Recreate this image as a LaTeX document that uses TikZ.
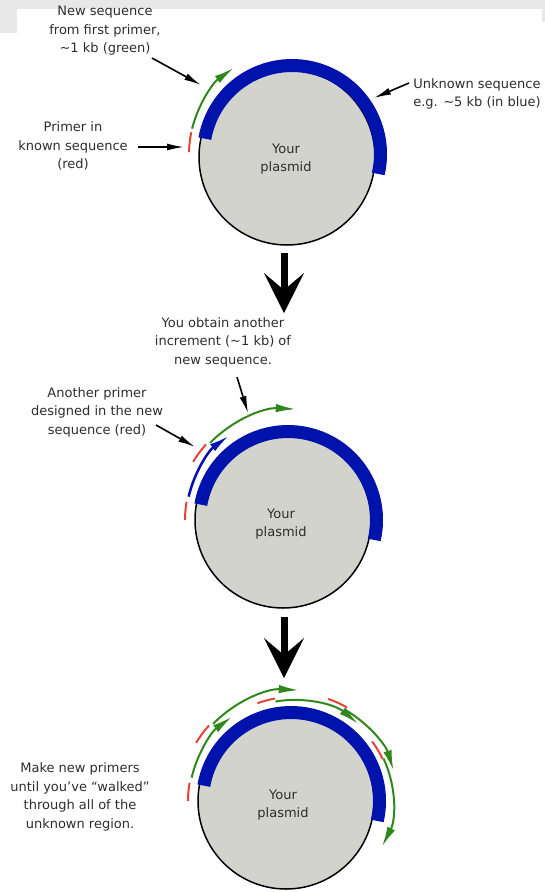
\documentclass[tikz,border=0pt]{standalone}
\usepackage{fontspec}
\setmainfont{DejaVu Sans}
\usetikzlibrary{arrows.meta}

\definecolor{plasgray}{RGB}{211,211,206}
\definecolor{seqblue}{RGB}{0,18,172}
\definecolor{seqgreen}{RGB}{48,136,28}
\definecolor{primred}{RGB}{228,68,56}
\definecolor{txtgray}{RGB}{45,45,45}
\definecolor{framegray}{RGB}{232,232,232}

\begin{document}
\begin{tikzpicture}[x=1pt,y=1pt,yscale=-1,
  every node/.style={font=\fontsize{13}{18.5}\selectfont,text=txtgray,align=center,inner sep=0pt},
  plasmid/.style={draw=black,line width=1.5pt,fill=plasgray},
  bluearc/.style={draw=seqblue,line width=13pt},
  redarc/.style={draw=primred,line width=2pt},
  greenarc/.style={draw=seqgreen,line width=2pt,-{Latex[length=20pt,width=8.5pt]}},
  knownarc/.style={draw=seqblue,line width=2.5pt,-{Latex[length=20pt,width=8.5pt]}},
  pointer/.style={draw=black,line width=1.6pt,-{Latex[length=17pt,width=7pt]}},
  bigarrow/.style={draw=black,line width=7pt,-{Stealth[length=40pt,width=40pt,inset=17pt,line width=0pt]}}]
\useasboundingbox (0,0) rectangle (545,892);

% frame
\fill[framegray] (0,0) rectangle (545,9);
\fill[framegray] (0,0) rectangle (17,33);
\fill[framegray] (542,0) rectangle (545,22);

%% first plasmid
\begin{scope}[shift={(294,154)},yscale=-1]
\draw[plasmid] (-7,-3) circle[radius=88];
\draw[bluearc] ([xshift=-2pt]-13:88.5) arc[start angle=-13,end angle=170,radius=88.5];
\draw[redarc] (179:105) arc[start angle=179,end angle=168,radius=105];
\draw[greenarc] (166:105) arc[start angle=166,end angle=125,radius=105];
\end{scope}

\node (plasmidA) at (286,159) {Your\\plasmid};
\node (newseq) at (105,31) {New sequence\\from first primer,\\\textasciitilde1 kb (green)};
\node (unknown) at (477,94) {Unknown sequence\\e.g. \textasciitilde5 kb (in blue)};
\node (primer) at (73,146) {Primer in\\known sequence\\(red)};

\coordinate (newseqS) at (152,58);
\coordinate (newseqE) at (201,85);
\coordinate (unknownS) at (409,83);
\coordinate (unknownE) at (374,98);
\coordinate (primerS) at (138,147);
\coordinate (primerE) at (184,147);
\draw[pointer] (newseqS) -- (newseqE);
\draw[pointer] (unknownS) -- (unknownE);
\draw[pointer] (primerS) -- (primerE);

% step arrow
\coordinate (downAs) at (284,253);
\coordinate (downAe) at (284,313);
\draw[bigarrow] (downAs) -- (downAe);

%% second plasmid
\begin{scope}[shift={(290,520)},yscale=-1]
\draw[plasmid] (-7,0) circle[radius=88];
\draw[bluearc] ([xshift=-2pt]-13:88.5) arc[start angle=-13,end angle=170,radius=88.5];
\draw[redarc] (180:105) arc[start angle=180,end angle=170,radius=105];
\draw[knownarc] (167:104) arc[start angle=167,end angle=126,radius=104];
\draw[redarc] (149:113) arc[start angle=149,end angle=138,radius=113];
\draw[greenarc] (136:111) arc[start angle=136,end angle=87,radius=111];
\end{scope}

\node (plasmidB) at (281,524) {Your\\plasmid};
\node (obtain) at (223,342) {You obtain another\\increment (\textasciitilde1 kb) of\\new sequence.};
\node (another) at (97,412) {Another primer\\designed in the new\\sequence (red)};

\coordinate (obtainS) at (237,377);
\coordinate (obtainE) at (248,413);
\coordinate (anotherS) at (156,425);
\coordinate (anotherE) at (195,447);
\draw[pointer] (obtainS) -- (obtainE);
\draw[pointer] (anotherS) -- (anotherE);

% step arrow
\coordinate (downBs) at (284,617);
\coordinate (downBe) at (284,678);
\draw[bigarrow] (downBs) -- (downBe);

%% third plasmid
\begin{scope}[shift={(293,801)},yscale=-1]
\draw[plasmid] (-7,0) circle[radius=88];
\draw[bluearc] ([xshift=-2pt]-13:88.5) arc[start angle=-13,end angle=170,radius=88.5];
\draw[redarc] (180:105) arc[start angle=180,end angle=170,radius=105];
\draw[greenarc] (167:104) arc[start angle=167,end angle=126,radius=104];
\draw[redarc] (149:113) arc[start angle=149,end angle=138,radius=113];
\draw[greenarc] (136:111) arc[start angle=136,end angle=87,radius=111];
\draw[redarc] (110:104) arc[start angle=110,end angle=100,radius=104];
\draw[greenarc] (100:101) arc[start angle=100,end angle=50,radius=101];
\draw[redarc] (71:108) arc[start angle=71,end angle=60,radius=108];
\draw[greenarc] (60:105) arc[start angle=60,end angle=17,radius=105];
\draw[redarc] (37:99) arc[start angle=37,end angle=25,radius=99];
\draw[greenarc] (25:100) arc[start angle=25,end angle=-27,radius=100];
\end{scope}

\node (plasmidC) at (283,805) {Your\\plasmid};
\node (walk) at (80,797) {Make new primers\\until you’ve “walked”\\through all of the\\unknown region.};

\end{tikzpicture}
\end{document}
